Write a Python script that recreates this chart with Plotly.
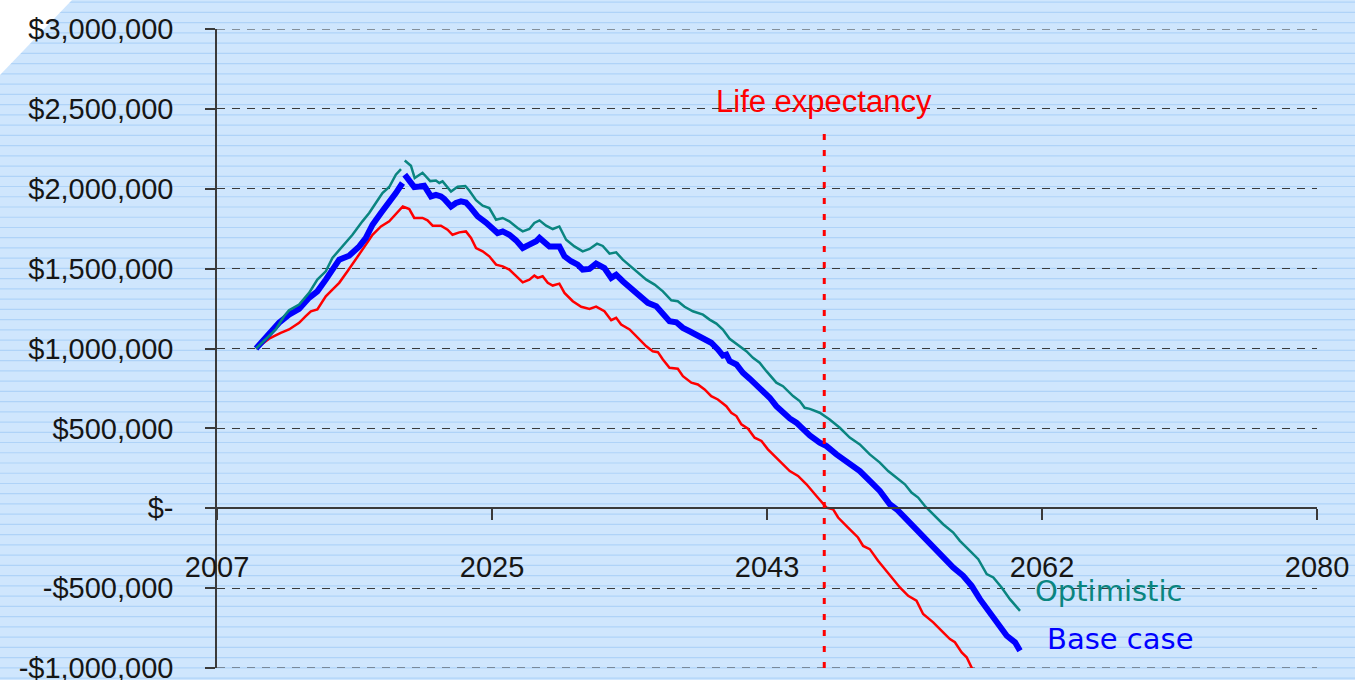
import plotly.graph_objects as go

# ---------------- data ----------------
X_TICK_VALUES = [2007, 2025.25, 2043.5, 2061.75, 2080]
X_TICK_LABELS = ["2007", "2025", "2043", "2062", "2080"]

Y_TICK_VALUES = [3000000, 2500000, 2000000, 1500000, 1000000, 500000, 0, -500000, -1000000]
Y_TICK_LABELS = ["$3,000,000", "$2,500,000", "$2,000,000", "$1,500,000", "$1,000,000",
                 "$500,000", "$-", "-$500,000", "-$1,000,000"]

BASE_YEARS = [
    2009.59, 2010.01, 2010.57, 2011.12, 2011.78, 2012.45, 2013.11, 2013.66, 2014.22, 2014.66,
    2015.11, 2015.77, 2016.44, 2016.88, 2017.32, 2017.88, 2018.43, 2018.87, 2019.31, 2019.38,
    2019.46, 2019.76, 2020.09, 2020.42, 2020.75, 2021.20, 2021.53, 2021.86, 2022.08, 2022.53,
    2022.86, 2023.19, 2023.52, 2023.86, 2024.30, 2024.85, 2025.29, 2025.62, 2025.96, 2026.40,
    2026.85, 2027.29, 2027.73, 2028.18, 2028.40, 2028.73, 2029.06, 2029.72, 2030.06, 2030.50,
    2030.94, 2031.27, 2031.72, 2032.16, 2032.71, 2033.16, 2033.49, 2033.93, 2034.49, 2035.04,
    2035.59, 2036.15, 2036.59, 2037.03, 2037.48, 2037.92, 2038.36, 2038.81, 2039.25, 2039.80,
    2040.24, 2040.57, 2040.80, 2041.02, 2041.47, 2041.90, 2042.35, 2042.79, 2043.23, 2043.68,
    2044.12, 2044.56, 2045.01, 2045.45, 2045.89, 2046.34, 2047.00, 2047.45, 2048.11, 2048.88,
    2049.66, 2050.32, 2050.99, 2051.65, 2052.10, 2052.65, 2053.31, 2053.86, 2054.53, 2055.19,
    2055.86, 2056.52, 2057.08, 2057.63, 2058.30, 2058.85, 2059.41, 2059.96, 2060.29,
]
BASE_VALUES = [
    1000000, 1046000, 1098000, 1161000, 1212000, 1248000, 1317000, 1358000, 1431000, 1494000,
    1556000, 1581000, 1639000, 1692000, 1775000, 1848000, 1911000, 1973000, 2036000, None,
    2088000, 2056000, 2011000, 2014000, 2019000, 1952000, 1962000, 1952000, 1936000, 1889000,
    1911000, 1921000, 1914000, 1879000, 1827000, 1789000, 1754000, 1723000, 1733000, 1712000,
    1677000, 1629000, 1650000, 1671000, 1692000, 1661000, 1639000, 1639000, 1577000, 1546000,
    1525000, 1494000, 1498000, 1531000, 1504000, 1442000, 1462000, 1421000, 1379000, 1337000,
    1286000, 1264000, 1223000, 1171000, 1164000, 1129000, 1108000, 1087000, 1067000, 1036000,
    994000, 956000, 962000, 921000, 900000, 848000, 811000, 775000, 733000, 692000,
    639000, 598000, 562000, 536000, 494000, 456000, 411000, 389000, 337000, 286000,
    233000, 171000, 108000, 25000, -6000, -58000, -121000, -183000, -236000, -298000,
    -371000, -423000, -486000, -569000, -652000, -714000, -798000, -839000, -892000,
]

OPT_YEARS = [
    2009.59, 2010.24, 2010.90, 2011.45, 2011.78, 2012.45, 2013.11, 2013.66, 2014.22, 2014.66,
    2015.33, 2015.99, 2016.65, 2017.10, 2017.54, 2017.98, 2018.43, 2018.87, 2019.21, 2019.33,
    2019.46, 2019.87, 2020.12, 2020.64, 2021.15, 2021.53, 2021.75, 2021.97, 2022.53, 2022.97,
    2023.48, 2023.74, 2024.19, 2024.63, 2025.07, 2025.52, 2025.96, 2026.40, 2026.95, 2027.29,
    2027.73, 2028.06, 2028.40, 2028.84, 2029.28, 2029.72, 2030.17, 2030.72, 2031.27, 2031.72,
    2032.22, 2032.60, 2033.05, 2033.49, 2033.93, 2034.38, 2034.93, 2035.49, 2036.04, 2036.59,
    2037.15, 2037.58, 2038.03, 2038.58, 2039.25, 2039.69, 2040.14, 2040.57, 2041.02, 2041.57,
    2042.13, 2042.57, 2043.01, 2043.46, 2044.12, 2044.56, 2045.23, 2045.67, 2046.00, 2046.34,
    2047.00, 2047.66, 2048.33, 2048.99, 2049.66, 2050.32, 2050.99, 2051.54, 2052.10, 2052.65,
    2053.09, 2053.53, 2053.98, 2054.53, 2055.19, 2055.86, 2056.30, 2056.97, 2057.52, 2058.08,
    2058.52, 2059.07, 2059.62, 2060.29,
]
OPT_VALUES = [
    1000000, 1056000, 1119000, 1202000, 1239000, 1275000, 1348000, 1431000, 1483000, 1567000,
    1639000, 1712000, 1796000, 1848000, 1911000, 1973000, 2011000, 2088000, 2123000, None,
    2177000, 2144000, 2067000, 2100000, 2048000, 2052000, 2036000, 2046000, 1983000, 2012000,
    2017000, 1989000, 1928000, 1894000, 1879000, 1806000, 1817000, 1796000, 1754000, 1733000,
    1748000, 1786000, 1802000, 1769000, 1748000, 1764000, 1681000, 1639000, 1608000, 1623000,
    1656000, 1642000, 1594000, 1602000, 1556000, 1519000, 1473000, 1431000, 1400000, 1358000,
    1302000, 1296000, 1261000, 1233000, 1212000, 1181000, 1156000, 1119000, 1061000, 1025000,
    983000, 942000, 911000, 858000, 786000, 764000, 702000, 671000, 629000, 622000,
    598000, 556000, 504000, 442000, 400000, 337000, 286000, 233000, 192000, 150000,
    98000, 67000, 14000, -37000, -100000, -152000, -204000, -267000, -319000, -412000,
    -433000, -496000, -569000, -642000,
]

PESS_YEARS = [
    2009.59, 2010.12, 2010.46, 2010.79, 2011.23, 2011.78, 2012.45, 2012.89, 2013.23, 2013.66,
    2014.22, 2014.66, 2015.11, 2015.66, 2016.22, 2016.88, 2017.32, 2017.88, 2018.43, 2018.87,
    2019.33, 2019.76, 2020.09, 2020.64, 2020.97, 2021.31, 2021.86, 2022.30, 2022.63, 2023.08,
    2023.52, 2023.86, 2024.19, 2024.63, 2025.07, 2025.52, 2025.96, 2026.40, 2026.85, 2027.29,
    2027.73, 2028.06, 2028.28, 2028.61, 2028.95, 2029.28, 2029.72, 2030.06, 2030.61, 2031.17,
    2031.72, 2032.16, 2032.71, 2033.16, 2033.49, 2033.82, 2034.38, 2034.93, 2035.49, 2035.92,
    2036.26, 2036.59, 2037.03, 2037.58, 2037.92, 2038.48, 2038.91, 2039.36, 2039.80, 2040.24,
    2040.80, 2041.13, 2041.47, 2041.80, 2042.24, 2042.68, 2043.13, 2043.56, 2044.01, 2045.01,
    2045.56, 2046.12, 2046.78, 2047.45, 2047.88, 2048.22, 2048.88, 2049.54, 2049.88, 2050.32,
    2050.87, 2051.43, 2051.87, 2052.32, 2052.87, 2053.42, 2053.86, 2054.53, 2055.19, 2055.64,
    2055.97, 2056.42, 2056.75, 2057.08, 2057.40,
]
PESS_VALUES = [
    1000000, 1036000, 1061000, 1077000, 1098000, 1119000, 1161000, 1202000, 1233000, 1244000,
    1327000, 1369000, 1411000, 1483000, 1556000, 1650000, 1712000, 1764000, 1796000, 1844000,
    1889000, 1873000, 1817000, 1817000, 1802000, 1769000, 1769000, 1744000, 1712000, 1727000,
    1733000, 1692000, 1629000, 1608000, 1577000, 1525000, 1514000, 1494000, 1452000, 1414000,
    1431000, 1456000, 1442000, 1452000, 1411000, 1394000, 1406000, 1348000, 1296000, 1261000,
    1248000, 1262000, 1233000, 1177000, 1192000, 1150000, 1119000, 1067000, 1014000, 983000,
    977000, 931000, 879000, 873000, 827000, 786000, 775000, 744000, 702000, 681000,
    639000, 598000, 577000, 525000, 498000, 442000, 421000, 369000, 327000, 233000,
    202000, 150000, 77000, 4000, -6000, -58000, -121000, -183000, -236000, -256000,
    -329000, -392000, -444000, -496000, -548000, -579000, -662000, -714000, -777000, -819000,
    -839000, -902000, -933000, -996000, -1060000,
]

LIFE_EXPECTANCY_YEAR = 2047.3
LIFE_LINE_TOP = 2350000
LIFE_LABEL = "Life expectancy"
LIFE_LABEL_Y = 2545000

SERIES_LABELS = ["Optimistic", "Base case"]
SERIES_LABEL_X = [2061.15, 2061.95]
SERIES_LABEL_Y = [-520000, -818000]

# ---------------- styling ----------------
W, H = 1355, 680
ML, MR, MT, MB = 217, 38, 29, 12
PW, PH = W - ML - MR, H - MT - MB

BG = "#cfe6fd"
STRIPE = "#afd3f8"
AXIS = "#3a3a3a"
TEAL = "#0a8580"
BLUE = "#0000ff"
RED = "#ff0000"
GRID_DASH = "8px,7px"


def px_x(px):
    return (px - ML) / PW


def px_y(py):
    return (H - MB - py) / PH


fig = go.Figure()
fig.add_trace(go.Scatter(x=PESS_YEARS, y=PESS_VALUES, mode="lines",
                         line=dict(color=RED, width=2.5), hoverinfo="skip"))
fig.add_trace(go.Scatter(x=BASE_YEARS, y=BASE_VALUES, mode="lines", connectgaps=False,
                         line=dict(color=BLUE, width=6), hoverinfo="skip"))
fig.add_trace(go.Scatter(x=OPT_YEARS, y=OPT_VALUES, mode="lines", connectgaps=False,
                         line=dict(color=TEAL, width=2.5), hoverinfo="skip"))

shapes = []
# background stripes (decoration)
k = 0
while True:
    py = 2.2 + 10.24 * k
    if py > H:
        break
    shapes.append(dict(type="line", xref="paper", yref="paper", layer="below",
                       x0=px_x(0), x1=px_x(W), y0=px_y(py), y1=px_y(py),
                       line=dict(color=STRIPE, width=1.2)))
    k += 1
# white corner triangle
shapes.append(dict(type="path", xref="paper", yref="paper", layer="below",
                   path=f"M {px_x(0)},{px_y(0)} L {px_x(72)},{px_y(0)} L {px_x(0)},{px_y(75)} Z",
                   fillcolor="white", line=dict(width=0)))
# gridlines at the two ends of the value range (plotly omits them at the edges)
for yv in (Y_TICK_VALUES[0], Y_TICK_VALUES[-1]):
    shapes.append(dict(type="line", xref="paper", yref="y", layer="below",
                       x0=0, x1=1, y0=yv, y1=yv,
                       line=dict(color=AXIS, width=1, dash=GRID_DASH)))
# life expectancy marker
shapes.append(dict(type="line", xref="x", yref="y",
                   x0=LIFE_EXPECTANCY_YEAR, x1=LIFE_EXPECTANCY_YEAR,
                   y0=Y_TICK_VALUES[-1], y1=LIFE_LINE_TOP,
                   line=dict(color=RED, width=3, dash="6px,10px")))

annotations = [
    dict(x=LIFE_EXPECTANCY_YEAR, y=LIFE_LABEL_Y, xref="x", yref="y", text=LIFE_LABEL,
         showarrow=False, xanchor="center", yanchor="middle",
         font=dict(family="Liberation Sans", size=31, color=RED)),
    dict(x=SERIES_LABEL_X[0], y=SERIES_LABEL_Y[0], xref="x", yref="y", text=SERIES_LABELS[0],
         showarrow=False, xanchor="left", yanchor="middle",
         font=dict(family="DejaVu Sans", size=29, color=TEAL)),
    dict(x=SERIES_LABEL_X[1], y=SERIES_LABEL_Y[1], xref="x", yref="y", text=SERIES_LABELS[1],
         showarrow=False, xanchor="left", yanchor="middle",
         font=dict(family="DejaVu Sans", size=29, color=BLUE)),
]

tickfont = dict(family="Liberation Sans", size=29, color="#161616")

fig.update_layout(
    width=W, height=H, autosize=False,
    margin=dict(l=ML, r=MR, t=MT, b=MB, pad=0, autoexpand=False),
    paper_bgcolor=BG, plot_bgcolor="rgba(0,0,0,0)",
    showlegend=False,
    shapes=shapes, annotations=annotations,
    xaxis=dict(range=[X_TICK_VALUES[0], X_TICK_VALUES[-1]], tickmode="array",
               tickvals=X_TICK_VALUES, ticktext=X_TICK_LABELS,
               anchor="free", position=0.25, automargin=False,
               showline=True, linecolor=AXIS, linewidth=1.5,
               ticks="outside", ticklen=11, tickwidth=1.5, tickcolor=AXIS,
               showgrid=False, zeroline=False, tickfont=tickfont,
               ticklabelstandoff=22, ticklabeloverflow="allow"),
    yaxis=dict(range=[Y_TICK_VALUES[-1], Y_TICK_VALUES[0]], tickmode="array",
               tickvals=Y_TICK_VALUES, ticktext=Y_TICK_LABELS, automargin=False,
               showline=True, linecolor=AXIS, linewidth=1.5,
               ticks="outside", ticklen=10, tickwidth=1.5, tickcolor=AXIS,
               showgrid=True, gridcolor=AXIS, gridwidth=1, griddash=GRID_DASH,
               zeroline=False, tickfont=tickfont, ticklabelstandoff=26,
               ticklabeloverflow="allow"),
)

fig.write_html("out.html", config={"displayModeBar": False},
               post_script="document.body.style.margin='0px';")
